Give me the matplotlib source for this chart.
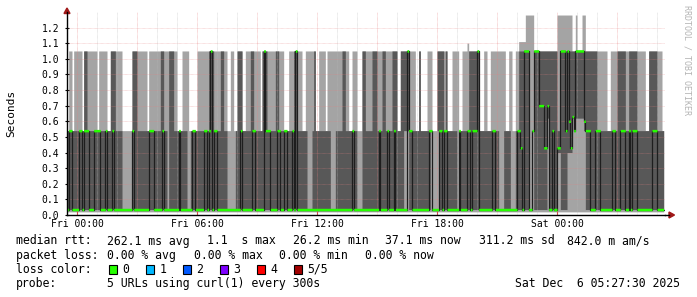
import numpy as np
import matplotlib
matplotlib.use("Agg")
import matplotlib.pyplot as plt
from matplotlib.patches import Polygon, Rectangle
from matplotlib.lines import Line2D

plt.rcParams['font.family'] = ['DejaVu Sans Mono']

# one char per 5 min step, starting Thu 23:30, one row per 5 hours
# upper half of the smoke: W nothing above 0.54, L light to ~1.05, D dark to ~1.05,
# m/M light to ~1.1, h/H light to ~1.28 (capital = dark up to 1.05)
upper_rows = [
    "WLLWLLLLLW" "DDLLLLLLWL" "LLLLWWDDDL" "LLLWWWWWWD" "DDLLLLLLWL" "LLLLLLDDLL",
    "LDDDLLWWWL" "LLLWWWWWLL" "LLLLLDDDLL" "LLDDLLWWLL" "WWDDDWWLLL" "DDLLLLWDDD",
    "LLLLLDDLLL" "WWWLLLDDLL" "LWWLLLLLDW" "WLLLLWLLLL" "LLLLLDDLLW" "WLLLWWWDDL",
    "LLLDDDLLLD" "DLLLLDDDWW" "DDDDDLLLLW" "WDWWWWLLLW" "WWDDDDLDWW" "WLLLLWWLLL",
    "mDDDDDDWWW" "LLWWLLLLLL" "LLLWWLLWWL" "LMMMMHHhhh" "DDDDDDDDDD" "DDDDhhHHHH",
    "HHHDDHDDDH" "HDDDDDDDLL" "LLLLWWLLLL" "DDDDDLLDDD" "DDLLLLLWWD" "DDDDLLLW",
]
# lower edge of the dark smoke: D near 0, L at 0.54, digits = 0.40 / 0.62
lower_rows = [
    "DDDDDDDDDD" "DDDDDDDDDD" "DDDDDDDDDD" "DDDLLLLLLD" "DDDDDDDDDD" "DDDDDDDDDD",
    "LDDDDDDDDD" "DDLLDDDDDD" "DDDDDDDDDD" "DDDDDDLLLL" "LDDDDDDDDD" "DDDDDDDDDD",
    "DDDDDDDDDD" "DDDDDDDDDD" "DDDDLLLDDD" "DDDDDDDDLL" "LDDDDDDDDD" "DDDDLLLDDD",
    "DDDDDDDDDD" "DDDDDDDDDD" "DDLLLDDDDD" "DDDDDDDDLL" "LLLDDDDDDD" "DDDDLLDDDD",
    "DDDDDDDDDD" "DDDDDDDDDL" "LLDDDDLLLD" "DDDDDDDLLL" "DDDDDDDD6D" "DDDD44DDDD",
    "4446666666" "LDDDDDDDDD" "DDDDDDDDDD" "DDDDDDDDDD" "DDDDDDDDDD" "DDDDDDDD",
]
# median rtt
median_rows = [
    "0550000550" "5550005555" "0005000500" "0000000005" "0000000005" "5500000500",
    "0000000500" "0000055000" "005505T055" "0000000000" "0000500000" "05500000T5",
    "5500005500" "5500050T00" "0000000000" "0000000000" "0000000000" "0500000000",
    "0000000500" "0050005000" "0000T55000" "0000000550" "0005505500" "0000050000",
    "550555T000" "0000055000" "0000000000" "55a0TTT005" "TTTcccaac0" "0500aaTTT5",
    "Tbad5TTTTT" "b555000555" "0000000550" "0055500505" "5500000000" "05550000",
]

upper_levels = {'W': (0.54, 0.54), 'L': (0.54, 1.05), 'D': (1.05, 1.05),
                'm': (0.54, 1.10), 'M': (1.05, 1.11), 'h': (0.54, 1.28), 'H': (1.05, 1.28)}
lower_levels = {'D': 0.035, 'L': 0.54, '4': 0.40, '6': 0.62}
median_levels = {'0': 0.035, '5': 0.54, 'T': 1.05, 'a': 0.43, 'b': 0.60, 'c': 0.70, 'd': 0.63}
smoke_floor = 0.02

xtick_hours = [0, 6, 12, 18, 24]
xtick_labels = ["Fri 00:00", "Fri 06:00", "Fri 12:00", "Fri 18:00", "Sat 00:00"]
yticks = [0.0, 0.1, 0.2, 0.3, 0.4, 0.5, 0.6, 0.7, 0.8, 0.9, 1.0, 1.1, 1.2]

rtt_legend = [(16, "median rtt:"), (107, "262.1 ms avg"), (207, "1.1  s max"),
              (293, "26.2 ms min"), (385, "37.1 ms now"), (479, "311.2 ms sd"),
              (567, "842.0 m am/s")]
loss_legend = [(16, "packet loss:"), (107, "0.00 % avg"), (194, "0.00 % max"),
               (279, "0.00 % min"), (365, "0.00 % now")]
loss_labels = ["0", "1", "2", "3", "4", "5/5"]
loss_colors = ["#26ff00", "#00b8ff", "#0059ff", "#7e00ff", "#ff0000", "#a10000"]
loss_x = [108.5, 145.5, 182.5, 219.5, 256.5, 293.5]

W, H = 697, 297
fig = plt.figure(figsize=(W / 100, H / 100), dpi=100)
fx = lambda px: px / W
fy = lambda py: 1 - py / H

ax = fig.add_axes([fx(67), fy(215), (665 - 67) / W, (215 - 11.9) / H])

up = "".join(upper_rows)
lo = "".join(lower_rows)
md = "".join(median_rows)
n = len(up)
t = -0.5 + np.arange(n + 1) / 12.0
p4 = np.array([upper_levels[c][0] for c in up])
p5 = np.array([upper_levels[c][1] for c in up])
p2 = np.array([lower_levels[c] for c in lo])
med = np.array([median_levels[c] for c in md])
p1 = np.full(n, smoke_floor)
ext = lambda a: np.append(a, a[-1])

ax.fill_between(t, ext(p1), ext(p5), step='post', color='#a4a4a4', lw=0, zorder=1)
ax.fill_between(t, ext(p2), ext(p4), step='post', color='#585858', lw=0, zorder=2)

# grid (dotted, rrdtool style)
for h in range(0, 30):
    major = h % 3 == 0
    ax.axvline(h, color='#e88080' if major else '#b8b8b8', lw=0.6,
               dashes=(0.72, 0.72), alpha=0.55, zorder=3)
for v in yticks[1:]:
    ax.axhline(v, color='#e88080', lw=0.6, dashes=(0.72, 0.72), alpha=0.45, zorder=3)

ax.step(t, ext(med), where='post', color='#1e1e1e', lw=0.9, zorder=4)
ax.fill_between(t, ext(med) - 0.008, ext(med) + 0.008, step='post',
                color='#26ff00', lw=0, zorder=5)

ax.set_xlim(-0.5, 29.4)
ax.set_ylim(0, 1.3)
ax.set_yticks(yticks, [f"{v:.1f}" for v in yticks])
ax.set_xticks(xtick_hours, xtick_labels)
ax.tick_params(axis='y', length=3, width=0.8, direction='inout', labelsize=7, pad=4)
ax.tick_params(axis='x', length=3, width=0.8, direction='in', color='#d04040',
               labelsize=7, pad=3)
for s in ['top', 'right']:
    ax.spines[s].set_visible(False)
for s in ['left', 'bottom']:
    ax.spines[s].set_color('#000000')
    ax.spines[s].set_linewidth(1)
    ax.spines[s].set_zorder(6)

# axis extensions and arrows
fig.add_artist(Line2D([fx(665), fx(669)], [fy(215), fy(215)], color='black', lw=1))
fig.add_artist(Line2D([fx(67), fx(67)], [fy(11.9), fy(13)], color='black', lw=1))
fig.add_artist(Polygon([(fx(669), fy(212)), (fx(674.5), fy(215)), (fx(669), fy(218))],
                       closed=True, color='#a01818', transform=fig.transFigure))
fig.add_artist(Polygon([(fx(64), fy(13.5)), (fx(67), fy(8)), (fx(70), fy(13.5))],
                       closed=True, color='#a01818', transform=fig.transFigure))

fig.text(fx(11.5), fy(113), "Seconds", rotation=90, ha='center', va='center', fontsize=8)
fig.text(fx(687), fy(60), "RRDTOOL / TOBI OETIKER", rotation=270, ha='center',
         va='center', fontsize=6, color='#b4b4b4')

rows_y = [241, 255.5, 269.5, 283.5]
for x, s in rtt_legend:
    fig.text(fx(x), fy(rows_y[0]), s, ha='left', va='center', fontsize=8.3)
for x, s in loss_legend:
    fig.text(fx(x), fy(rows_y[1]), s, ha='left', va='center', fontsize=8.3)
fig.text(fx(16), fy(rows_y[2]), "loss color:", ha='left', va='center', fontsize=8.3)
for x, lab, col in zip(loss_x, loss_labels, loss_colors):
    fig.add_artist(Rectangle((fx(x), fy(rows_y[2] + 4.5)), 8 / W, 9 / H, facecolor=col,
                             edgecolor='black', lw=0.8, transform=fig.transFigure))
    fig.text(fx(x + 14), fy(rows_y[2]), lab, ha='left', va='center', fontsize=8.3)
fig.text(fx(16), fy(rows_y[3]), "probe:", ha='left', va='center', fontsize=8.3)
fig.text(fx(107), fy(rows_y[3]), "5 URLs using curl(1) every 300s", ha='left',
         va='center', fontsize=8.3)
fig.text(fx(680), fy(rows_y[3]), "Sat Dec  6 05:27:30 2025", ha='right', va='center',
         fontsize=8.3)

fig.savefig("out.png", dpi=100, facecolor='white')
